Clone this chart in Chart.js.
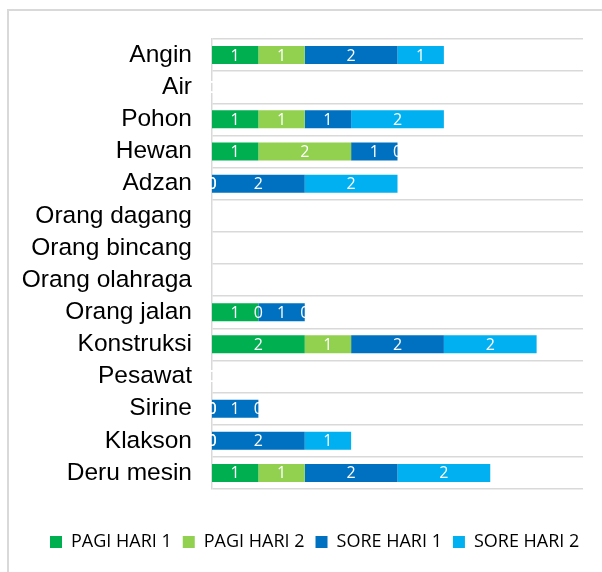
<!DOCTYPE html>
<html>
<head>
<meta charset="utf-8">
<script src="https://cdn.jsdelivr.net/npm/chart.js@4.4.0/dist/chart.umd.min.js"></script>
<style>
  body { margin: 0; background: #fff; }
  #wrap { position: relative; width: 602px; height: 572px; }
</style>
</head>
<body>
<div id="wrap"><canvas id="myChart" width="602" height="572"></canvas></div>
<script>
const categories = ['Angin', 'Air', 'Pohon', 'Hewan', 'Adzan', 'Orang dagang', 'Orang bincang',
  'Orang olahraga', 'Orang jalan', 'Konstruksi', 'Pesawat', 'Sirine', 'Klakson', 'Deru mesin'];
const seriesNames = ['PAGI HARI 1', 'PAGI HARI 2', 'SORE HARI 1', 'SORE HARI 2'];
const pagiHari1 = [1, 0, 1, 1, 0, null, null, null, 1, 2, 0, 0, 0, 1];
const pagiHari2 = [1, 0, 1, 2, 0, null, null, null, 0, 1, 0, 0, 0, 1];
const soreHari1 = [2, 0, 1, 1, 2, null, null, null, 1, 2, 0, 1, 2, 2];
const soreHari2 = [1, 0, 2, 0, 2, null, null, null, 0, 2, 0, 0, 1, 2];
const colors = ['#00B050', '#92D050', '#0070C0', '#00B0F0'];

const ctx = document.getElementById('myChart').getContext('2d');

// frame around the chart, like the Excel chart border
const framePlugin = {
  id: 'frame',
  beforeDraw(chart) {
    const c = chart.ctx;
    c.save();
    c.strokeStyle = '#d9d9d9';
    c.lineWidth = 2;
    c.strokeRect(8, 10, 700, 700);
    c.restore();
  }
};

// move the legend row to where Excel puts it
const legendPlace = {
  id: 'legendPlace',
  afterLayout(chart) {
    const l = chart.legend;
    const pad = l.options.labels.padding;
    const shift = 50 - (l.left + pad + l.right - l.lineWidths[0]) / 2;
    l.left += shift;
    l.right += shift;
    const dy = 522 - l.top;
    l.top += dy;
    l.bottom += dy;
  }
};

// white value labels centred on each segment
const valueLabels = {
  id: 'valueLabels',
  afterDatasetsDraw(chart) {
    const c = chart.ctx;
    c.save();
    c.fillStyle = '#ffffff';
    c.font = '16px "Open Sans"';
    c.textAlign = 'center';
    c.textBaseline = 'middle';
    chart.data.datasets.forEach((ds, i) => {
      chart.getDatasetMeta(i).data.forEach((el, j) => {
        const v = ds.data[j];
        if (v === null || v === undefined) return;
        const p = el.getProps(['x', 'y', 'base'], true);
        c.fillText(String(v), (p.x + p.base) / 2, p.y + 1);
      });
    });
    c.restore();
  }
};

const seriesData = [pagiHari1, pagiHari2, soreHari1, soreHari2];

const myChart = new Chart(ctx, {
  type: 'bar',
  data: {
    labels: categories,
    datasets: seriesNames.map((name, i) => ({
      label: name,
      data: seriesData[i],
      backgroundColor: colors[i],
      borderWidth: 0,
      barPercentage: 0.56,
      categoryPercentage: 1,
    })),
  },
  options: {
    indexAxis: 'y',
    responsive: false,
    animation: false,
    layout: { padding: { left: 10, right: 19, top: 39, bottom: 44 } },
    scales: {
      x: {
        stacked: true,
        display: false,
        min: 0,
        max: 8,
      },
      y: {
        stacked: true,
        afterFit: (s) => { s.width = 202; },
        grid: { offset: true, color: '#d9d9d9', lineWidth: 1.5, drawTicks: false },
        border: { color: '#d9d9d9', width: 1.5 },
        ticks: {
          color: '#000',
          autoSkip: false,
          font: { family: '"Liberation Sans"', size: 24.5 },
          padding: 20,
        },
      },
    },
    plugins: {
      legend: {
        position: 'bottom',
        labels: {
          boxWidth: 12,
          boxHeight: 12,
          padding: 11,
          color: '#000',
          font: { family: '"Open Sans"', size: 18 },
        },
      },
      tooltip: { enabled: false },
    },
  },
  plugins: [framePlugin, legendPlace, valueLabels],
});
</script>
</body>
</html>
